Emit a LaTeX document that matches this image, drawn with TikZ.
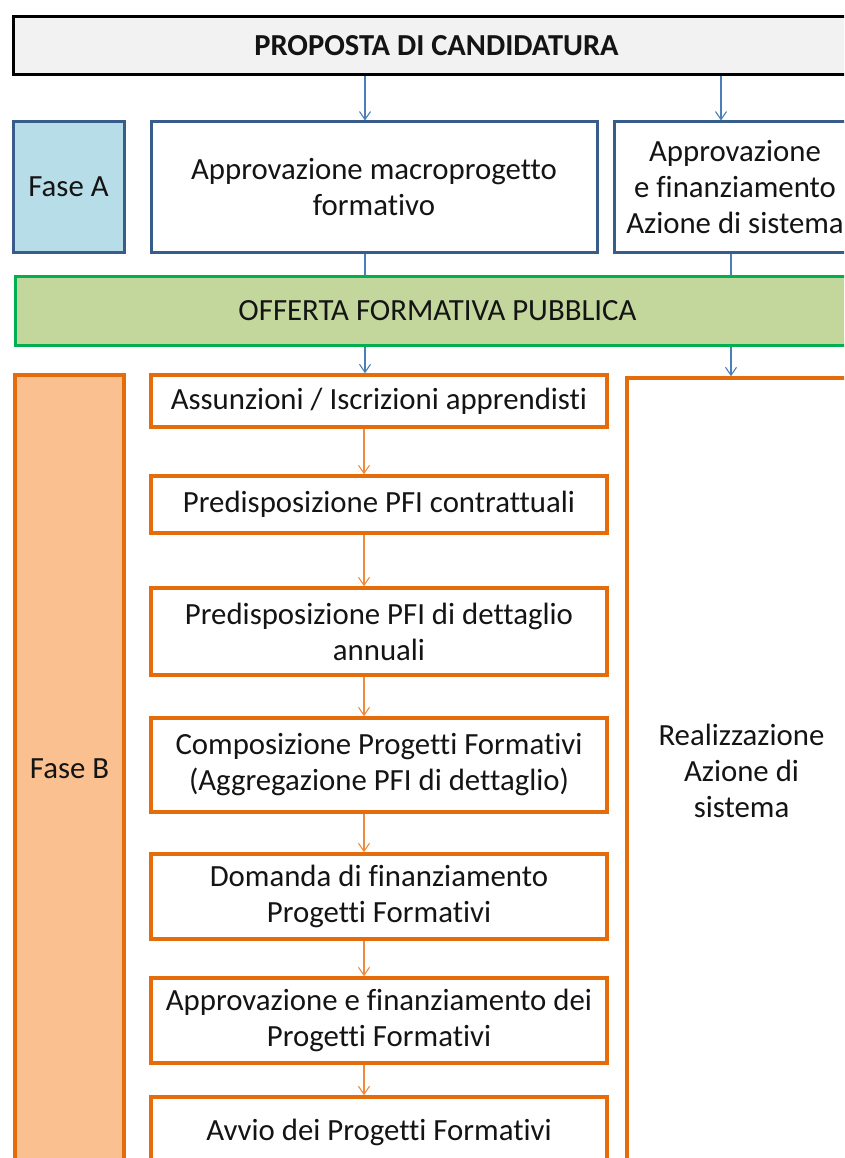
\documentclass[tikz,border=0pt]{standalone}
\usepackage{fontspec}
\setmainfont{Carlito}[Ligatures={NoCommon}]
\usetikzlibrary{arrows.meta}
\definecolor{bluebd}{HTML}{385D8A}
\definecolor{bluefill}{HTML}{B7DEE8}
\definecolor{bluearr}{HTML}{4A7EBB}
\definecolor{greenbd}{HTML}{00B050}
\definecolor{greenfill}{HTML}{C3D69B}
\definecolor{orangebd}{HTML}{E46C0A}
\definecolor{orangefill}{HTML}{FAC090}
\definecolor{orangearr}{HTML}{F08A3C}
\definecolor{topfill}{HTML}{F2F2F2}
\tikzset{
  box/.style={rectangle, inner sep=0pt, align=center, font=\fontsize{30.8}{36}\selectfont, text=black!92},
  topbox/.style={box, draw=black, fill=topfill, line width=3pt, font=\bfseries\fontsize{30.5}{36}\selectfont},
  bluebox/.style={box, draw=bluebd, fill=white, line width=3pt},
  phaseA/.style={box, draw=bluebd, fill=bluefill, line width=3pt},
  greenbox/.style={box, draw=greenbd, fill=greenfill, line width=3pt},
  orbox/.style={box, draw=orangebd, fill=white, line width=3.5pt},
  phaseB/.style={box, draw=orangebd, fill=orangefill, line width=3.5pt},
  barrow/.style={draw=bluearr, line width=1.1pt, -{Straight Barb[length=8pt,width=11pt,line width=1.1pt]}},
  bline/.style={draw=bluearr, line width=1.1pt},
  oarrow/.style={draw=orangearr, line width=1.1pt, -{Straight Barb[length=8pt,width=11pt,line width=1.1pt]}},
}
\begin{document}
\begin{tikzpicture}[x=1pt,y=-1pt]
\useasboundingbox (0,0) rectangle (844,1158);
\clip (0,0) rectangle (844,1158);
\fill[white] (0,0) rectangle (844,1158);

\node[topbox, minimum width=847pt, minimum height=58pt] (top) at (436.5,46) {PROPOSTA DI CANDIDATURA};
\node[phaseA, minimum width=111pt, minimum height=130pt] (faseA) at (68.5,187) {Fase A};
\node[bluebox, minimum width=446pt, minimum height=130pt] (macro) at (374,187) {Approvazione macroprogetto\\formativo};
\node[bluebox, minimum width=242pt, minimum height=130pt] (azsis) at (735,187) {Approvazione\\e finanziamento\\Azione di sistema};
\node[greenbox, minimum width=845pt, minimum height=69pt] (offerta) at (437.5,310.5) {OFFERTA FORMATIVA PUBBLICA};
\node[phaseB, minimum width=109pt, minimum height=788pt] (faseB) at (69.5,769) {Fase B};
\node[orbox, minimum width=229pt, minimum height=786pt] (realiz) at (741.5,771) {Realizzazione\\Azione di\\sistema};

\node[orbox, minimum width=456pt, minimum height=52pt] (b1) at (379,401) {Assunzioni / Iscrizioni apprendisti};
\node[orbox, minimum width=456pt, minimum height=57pt] (b2) at (379,504.5) {Predisposizione PFI contrattuali};
\node[orbox, minimum width=456pt, minimum height=87pt] (b3) at (379,631.5) {Predisposizione PFI di dettaglio\\annuali};
\node[orbox, minimum width=456pt, minimum height=94pt] (b4) at (379,765) {Composizione Progetti Formativi\\(Aggregazione PFI di dettaglio)};
\node[orbox, minimum width=456pt, minimum height=85pt] (b5) at (379,896.5) {Domanda di finanziamento\\Progetti Formativi};
\node[orbox, minimum width=456pt, minimum height=85pt] (b6) at (379,1020.5) {Approvazione e finanziamento dei\\Progetti Formativi};
\node[orbox, minimum width=456pt, minimum height=70pt] (b7) at (379,1132) {Avvio dei Progetti Formativi};

\coordinate (xL) at (365,0);
\coordinate (xR) at (721,0);
\coordinate (xR2) at (731,0);
\coordinate (xM) at (364,0);

\draw[barrow] (top.south -| xL) -- (macro.north -| xL);
\draw[barrow] (top.south -| xR) -- (azsis.north -| xR);
\draw[bline] (macro.south -| xL) -- (offerta.north -| xL);
\draw[bline] (azsis.south -| xR2) -- (offerta.north -| xR2);
\draw[barrow] (offerta.south -| xL) -- (b1.north -| xL);
\draw[barrow] (offerta.south -| xR2) -- (realiz.north -| xR2);

\draw[oarrow] (b1.south -| xM) -- (b2.north -| xM);
\draw[oarrow] (b2.south -| xM) -- (b3.north -| xM);
\draw[oarrow] (b3.south -| xM) -- (b4.north -| xM);
\draw[oarrow] (b4.south -| xM) -- (b5.north -| xM);
\draw[oarrow] (b5.south -| xM) -- (b6.north -| xM);
\draw[oarrow] (b6.south -| xM) -- (b7.north -| xM);
\end{tikzpicture}
\end{document}
